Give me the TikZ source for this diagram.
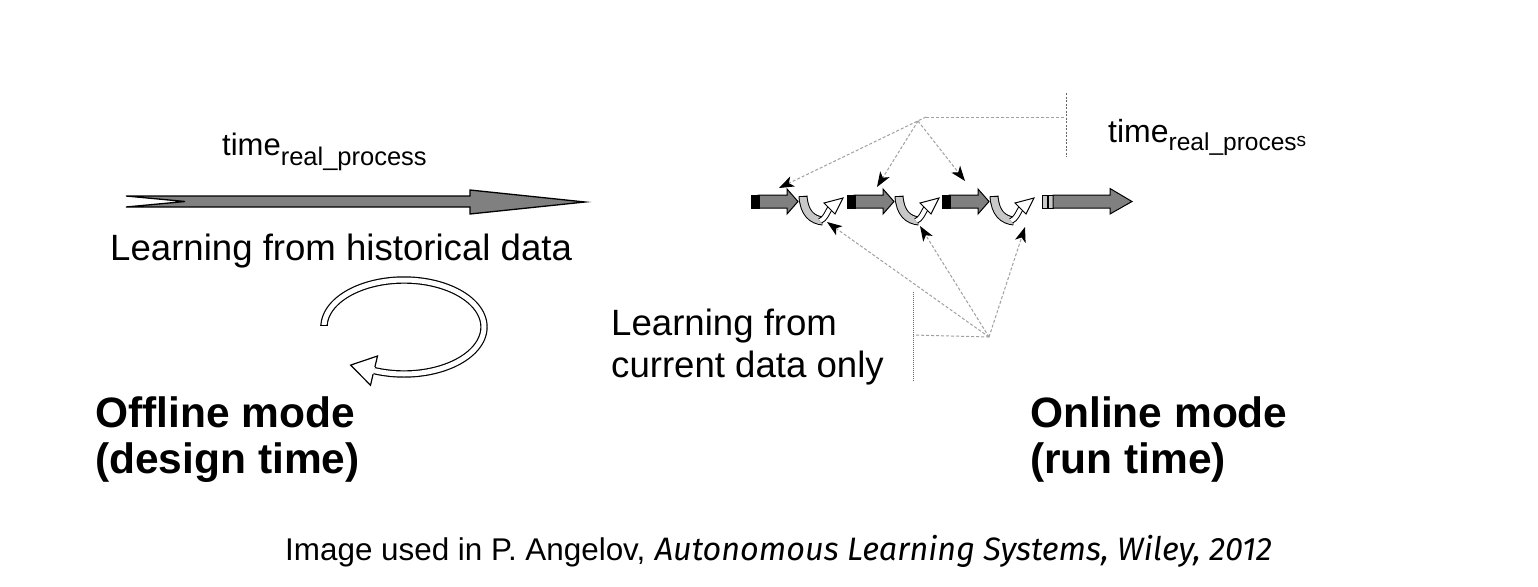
\documentclass[tikz,border=0pt]{standalone}
\usepackage{fontspec}
\setmainfont{Liberation Sans}
\newfontfamily\capfont{Fira Sans}
\usetikzlibrary{arrows.meta}
\definecolor{arrowgray}{HTML}{808080}
\definecolor{bandgray}{HTML}{C8C8C8}
\definecolor{dashgray}{HTML}{A0A0A0}
\tikzset{
  bigarrow/.style={fill=arrowgray, draw=black, line width=1.3pt, line join=miter},
  segblock/.style={fill=black, draw=black, line width=0.8pt},
  segarrow/.style={fill=arrowgray, draw=black, line width=1pt, line join=miter},
  endblock/.style={fill=bandgray, draw=black, line width=1pt},
  band/.style={double=bandgray, double distance=7pt, line width=1pt},
  hollow/.style={double=white, double distance=4pt, line width=1pt},
  hollowbig/.style={double=white, double distance=5pt, line width=1.2pt, line join=round},
  hollowhead/.style={fill=white, draw=black, line width=1pt, line join=miter},
  link/.style={draw=dashgray, line width=1pt, dash pattern=on 3pt off 2pt,
    -{Stealth[length=15pt,width=11pt,inset=4pt,color=black]}},
  guide/.style={draw=dashgray, line width=1pt, dash pattern=on 3pt off 2pt},
  bracket/.style={draw=black!60, line width=1pt, dash pattern=on 2pt off 1.5pt},
  txt/.style={anchor=base west, inner sep=0pt, font=\fontsize{36.6}{43}\selectfont},
  boldtxt/.style={anchor=base west, inner sep=0pt, font=\fontsize{42.5}{46}\selectfont\bfseries},
}
\newcommand\tlseg[3]{% block start, head start, tip
  \filldraw[segarrow] ({#1+7},195) -- (#2,195) -- (#2,189) -- (#3,201.5) -- (#2,214) -- (#2,208) -- ({#1+7},208) -- cycle;
  \filldraw[segblock] (#1,195) rectangle ({#1+8},208);
}
\newcommand\tlturn[1]{% tip x
  \draw[band] ({#1+5},196) .. controls ({#1+6},213) and ({#1+14},220) .. ({#1+25},221);
  \draw[line width=1pt] ({#1+1},196) -- ({#1+9},196);
  \draw[hollow] ({#1+22},221) .. controls ({#1+27},219) and ({#1+29},213) .. ({#1+32},208);
  \filldraw[hollowhead] ({#1+26},203) -- ({#1+45},198) -- ({#1+37},214) -- cycle;
}
\begin{document}
\begin{tikzpicture}[x=1pt,y=-1pt]
\fill[white] (0,0) rectangle (1538,586);
\useasboundingbox (0,0) rectangle (1538,586);

% ---------- offline side ----------
\node[anchor=base west, inner sep=0pt] (timeL) at (222,155)
  {\fontsize{31}{34}\selectfont time\raisebox{-10pt}{\fontsize{25.5}{28}\selectfont real\_process}};
\filldraw[bigarrow] (126,196) -- (470,196) -- (470,190) -- (585,202) -- (470,214) -- (470,207) -- (126,207) -- (185,201.5) -- cycle;
\node[txt] (histL) at (110,260) {Learning from historical data};

% loop arrow
\draw[hollowbig] plot[domain=182:472, samples=120, variable=\t] ({404+80*cos(\t)},{327+47*sin(\t)});
\draw[line width=1.2pt] (320.3,325.4) -- (327.7,325.4);
\fill[white] (377.5,356.0) -- (350.6,365.1) -- (370.5,385.2) -- cycle;
\draw[black, line width=1.2pt, line join=miter] (374.9,367.0) -- (377.5,356.0) -- (350.6,365.1) -- (370.5,385.2) -- (373.1,374.2);

\node[boldtxt] (offA) at (95,427) {Offline mode};
\node[boldtxt] (offB) at (95,473) {(design time)};

% ---------- online side ----------
\node[anchor=base west, inner sep=0pt] (timeR) at (1108,142)
  {\fontsize{32}{36}\selectfont time\raisebox{-8pt}{\fontsize{24.5}{27}\selectfont real\_proces}\raisebox{-4pt}{\fontsize{19}{21}\selectfont s}};

\tlseg{751}{787}{798}
\tlseg{847}{883}{894}
\tlseg{942}{978}{989}
\tlturn{798}
\tlturn{894}
\tlturn{989}
\filldraw[endblock] (1042,195) rectangle (1047,208);
\filldraw[endblock] (1048,195) rectangle (1053,208);
\filldraw[segarrow] (1053,195) -- (1110,195) -- (1110,188.5) -- (1132,201.5) -- (1110,214) -- (1110,208) -- (1053,208) -- cycle;

% upper links
\coordinate (hubA) at (926,117);
\coordinate (hubB) at (918,121);
\coordinate (topT1) at (779,188);
\coordinate (topT2) at (877,187);
\coordinate (topT3) at (965,181);
\coordinate (brTop) at (1066,93);
\coordinate (brMid) at (1066,117);
\coordinate (brBot) at (1066,157);
\draw[link] (hubA) -- (topT1);
\draw[link] (hubB) -- (topT2);
\draw[link] (hubB) -- (topT3);
\draw[guide] (hubA) -- (brMid);
\draw[bracket] (brTop) -- (brBot);

% lower links
\coordinate (hubC) at (989,337);
\coordinate (botT1) at (827,222);
\coordinate (botT2) at (920,226);
\coordinate (botT3) at (1025,227);
\coordinate (lbTop) at (913,292);
\coordinate (lbMid) at (913,335);
\coordinate (lbBot) at (913,381);
\draw[link] (hubC) -- (botT1);
\draw[link] (hubC) -- (botT2);
\draw[link] (hubC) -- (botT3);
\draw[guide] (hubC) -- (lbMid);
\draw[bracket, dash pattern=on 1pt off 1pt] (lbTop) -- (lbBot);

\node[txt] (curA) at (611,335) {Learning from};
\node[txt] (curB) at (611,377) {current data only};

\node[boldtxt] (onA) at (1030,427) {Online mode};
\node[boldtxt] (onB) at (1030,473) {(run time)};

% ---------- caption ----------
\node[anchor=base west, inner sep=0pt] (capA) at (285,560)
  {\fontsize{31.4}{34}\selectfont Image used in P. Angelov,};
\node[anchor=base west, inner sep=0pt] (capB) at ([xshift=9pt]capA.base east)
  {\fontsize{32.4}{35}\selectfont\capfont\itshape Autonomous Learning Systems, Wiley, 2012};
\end{tikzpicture}
\end{document}
